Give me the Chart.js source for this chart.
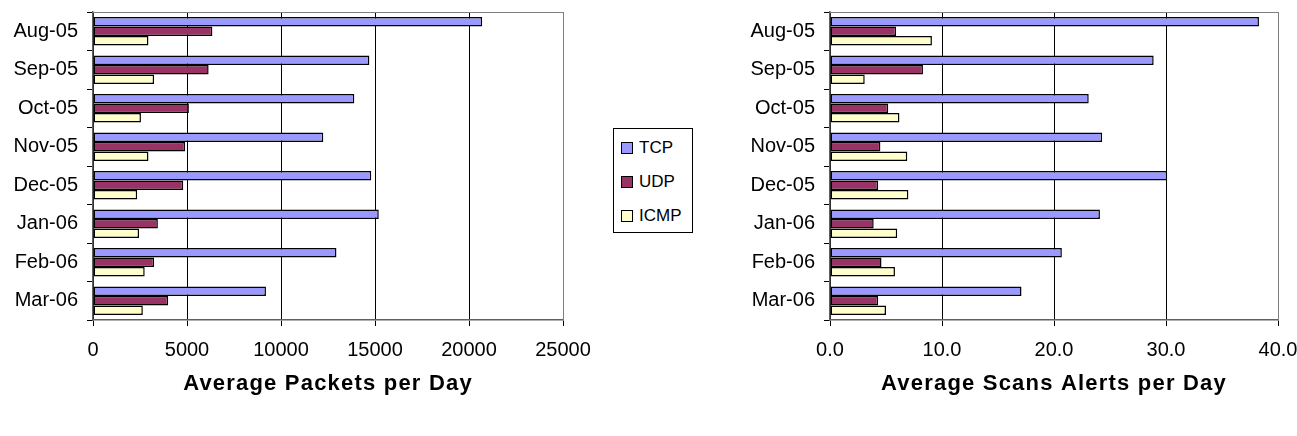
<!DOCTYPE html>
<html>
<head>
<meta charset="utf-8">
<script src="https://cdn.jsdelivr.net/npm/chart.js@4/dist/chart.umd.min.js"></script>
<style>
body{margin:0;background:#fff;width:1297px;height:436px;position:relative;overflow:hidden;font-family:"Liberation Sans",Arial,sans-serif}
#canvasPaquetes{position:absolute;left:0;top:0}
#canvasScans{position:absolute;left:700px;top:0}
#leyenda{position:absolute;left:613px;top:128px;width:80px;height:105px;border:1px solid #000;box-sizing:border-box;padding-top:2px}
.item{height:34px;display:flex;align-items:center;padding-left:7px;font-size:17px;color:#000}
.cuadro{width:10px;height:10px;border:1.5px solid #000;margin-right:6px}
</style>
</head>
<body>
<canvas id="canvasPaquetes" width="598" height="436"></canvas>
<canvas id="canvasScans" width="597" height="436"></canvas>
<div id="leyenda"></div>
<script>
//Categorias (meses) y series
const meses = ["Aug-05","Sep-05","Oct-05","Nov-05","Dec-05","Jan-06","Feb-06","Mar-06"];
const protocolos = ["TCP","UDP","ICMP"];
const coloresProtocolos = ["#9999FF","#993366","#FFFFCC"];

//Paquetes promedio por dia
const paquetesTCP = [20700,14700,13900,12250,14800,15200,12950,9200];
const paquetesUDP = [6350,6150,5100,4900,4800,3450,3250,4000];
const paquetesICMP = [2950,3250,2550,2950,2350,2450,2750,2650];
const ticksPaquetes = [0,5000,10000,15000,20000,25000];

//Alertas de scans promedio por dia
const scansTCP = [38.3,28.9,23.1,24.3,30.1,24.1,20.7,17.1];
const scansUDP = [5.9,8.3,5.2,4.5,4.3,3.9,4.6,4.3];
const scansICMP = [9.1,3.1,6.2,6.9,7.0,6.0,5.8,5.0];
const ticksScans = [0,10,20,30,40];

const fuente = '"Liberation Sans", Arial, sans-serif';

//Plugin que dibuja el borde gris de arriba y derecha del area del grafico
const bordeArea = {
  id: 'bordeArea',
  afterDraw(chart) {
    const a = chart.chartArea;
    const ctx = chart.ctx;
    ctx.save();
    ctx.strokeStyle = '#808080';
    ctx.lineWidth = 1;
    ctx.beginPath();
    ctx.moveTo(a.left, a.top + 0.5);
    ctx.lineTo(a.right + 0.5, a.top + 0.5);
    ctx.lineTo(a.right + 0.5, a.bottom);
    ctx.stroke();
    ctx.restore();
  }
};

//Funcion que arma los datasets a partir de las series
function armarDatasets(series) {
  let datasets = [];
  for (let i = 0; i < series.length; i++) {
    datasets.push({
      label: protocolos[i],
      data: series[i],
      backgroundColor: coloresProtocolos[i],
      borderColor: '#000',
      borderWidth: 1.5,
      borderSkipped: false,
      categoryPercentage: 0.74,
      barPercentage: 1.0
    });
  }
  return datasets;
}

//El titulo del eje en la imagen tiene las letras un poco mas separadas
function espaciarTitulo(eje) {
  if (eje._tituloEspaciado) return;
  const dibujarTitulo = eje.drawTitle;
  eje.drawTitle = function () {
    this.ctx.letterSpacing = '1.2px';
    dibujarTitulo.call(this);
    this.ctx.letterSpacing = '0px';
  };
  eje._tituloEspaciado = true;
}

//Funcion que genera un grafico de barras horizontales
function generarGrafico(idCanvas, series, ticks, titulo, anchoEjeY, padDerecho, formato) {
  const canvas = document.getElementById(idCanvas);
  const maximo = ticks[ticks.length - 1];
  return new Chart(canvas, {
    type: 'bar',
    data: { labels: meses, datasets: armarDatasets(series) },
    plugins: [bordeArea],
    options: {
      indexAxis: 'y',
      responsive: false,
      animation: false,
      layout: { padding: { top: 12, right: padDerecho, bottom: 0, left: 0 } },
      plugins: { legend: { display: false }, tooltip: { enabled: false } },
      scales: {
        x: {
          min: 0,
          max: maximo,
          afterBuildTicks: (eje) => { eje.ticks = ticks.map(v => ({ value: v })); },
          //Alto fijo del eje para que el area quede donde esta en la imagen
          afterFit: (eje) => {
            eje.height = 116; eje.paddingLeft = 0; eje.paddingRight = 0;
            espaciarTitulo(eje);
          },
          grid: {
            color: (c) => c.tick && c.tick.value === maximo ? '#808080' : '#000',
            tickColor: '#000',
            tickLength: 6
          },
          border: { color: '#606060', width: 1.5 },
          ticks: {
            color: '#000',
            padding: 12,
            maxRotation: 0,
            font: { family: fuente, size: 20 },
            callback: formato
          },
          title: {
            display: true,
            text: titulo,
            color: '#000',
            font: { family: fuente, size: 22, weight: 'bold' },
            padding: { top: 4, bottom: 39 }
          }
        },
        y: {
          afterFit: (eje) => { eje.width = anchoEjeY; eje.paddingTop = 0; eje.paddingBottom = 0; },
          grid: { drawOnChartArea: false, tickLength: 6, tickColor: '#000' },
          border: { color: '#606060', width: 1.5 },
          ticks: { color: '#000', padding: 9, font: { family: fuente, size: 20 } }
        }
      }
    }
  });
}

//Leyenda central armada con los nombres y colores de las series
function generarLeyenda() {
  const leyenda = document.getElementById('leyenda');
  for (let i = 0; i < protocolos.length; i++) {
    const item = document.createElement('div');
    item.className = 'item';
    const cuadro = document.createElement('span');
    cuadro.className = 'cuadro';
    cuadro.style.background = coloresProtocolos[i];
    item.appendChild(cuadro);
    item.appendChild(document.createTextNode(protocolos[i]));
    leyenda.appendChild(item);
  }
}

generarGrafico('canvasPaquetes', [paquetesTCP, paquetesUDP, paquetesICMP], ticksPaquetes,
  'Average Packets per Day', 93, 35, (v) => String(v));
generarGrafico('canvasScans', [scansTCP, scansUDP, scansICMP], ticksScans,
  'Average Scans Alerts per Day', 130, 19, (v) => v.toFixed(1));
generarLeyenda();
</script>
</body>
</html>
